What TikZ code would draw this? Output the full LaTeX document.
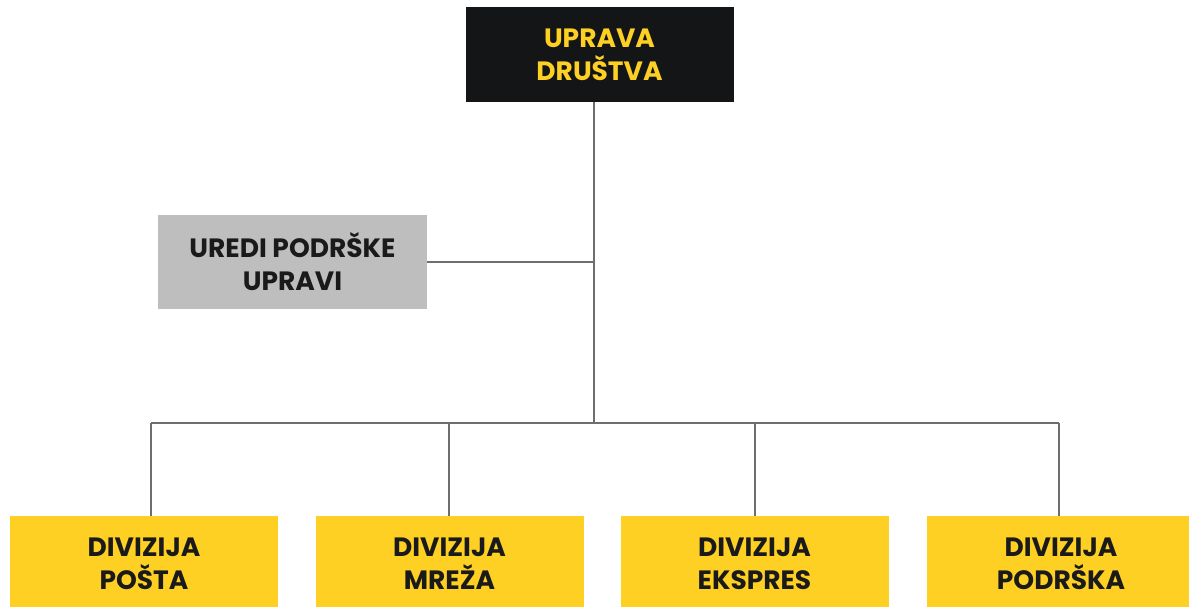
\documentclass[tikz,border=0pt]{standalone}
\usepackage{fontspec}
\setmainfont{Poppins}
\definecolor{boxblack}{HTML}{131516}
\definecolor{ylw}{HTML}{FDD023}
\definecolor{gry}{HTML}{BDBEBD}
\definecolor{linegray}{HTML}{6E6E6E}
\definecolor{txtdark}{HTML}{1A1A1A}
\tikzset{
  orgbox/.style={rectangle, inner sep=0pt, align=center, minimum width=268pt,
    font=\fontsize{26.5}{33}\selectfont\bfseries},
  topbox/.style={orgbox, fill=boxblack, text=ylw, minimum height=95pt},
  sidebox/.style={orgbox, fill=gry, text=txtdark, minimum width=269pt, minimum height=94pt},
  divbox/.style={orgbox, fill=ylw, text=txtdark, minimum height=96pt},
  conn/.style={draw=linegray, line width=1.8pt}
}
\begin{document}
\begin{tikzpicture}[x=1pt, y=-1pt]
\useasboundingbox (0,0) rectangle (1189,606);
\fill[white] (0,0) rectangle (1189,606);
\node[topbox] (top) at (599.5,54.5) {UPRAVA\\DRUŠTVA};
\node[sidebox] (side) at (292.5,262) {UREDI PODRŠKE\\UPRAVI};
\node[divbox] (d1) at (144,564) {DIVIZIJA\\POŠTA};
\node[divbox] (d2) at (449.5,564) {DIVIZIJA\\MREŽA};
\node[divbox] (d3) at (754.5,564) {DIVIZIJA\\EKSPRES};
\node[divbox] (d4) at (1061,564) {DIVIZIJA\\PODRŠKA};
\coordinate (hub) at (594,423);
\coordinate (b1) at (151,423);
\coordinate (b2) at (449,423);
\coordinate (b3) at (755,423);
\coordinate (b4) at (1059,423);
\draw[conn] (top.south -| hub) -- (hub);
\draw[conn] (side.east) -- (side.east -| hub);
\draw[conn] (b1) -- (b4);
\draw[conn] (b1) -- (b1 |- d1.north);
\draw[conn] (b2) -- (b2 |- d2.north);
\draw[conn] (b3) -- (b3 |- d3.north);
\draw[conn] (b4) -- (b4 |- d4.north);
\end{tikzpicture}
\end{document}
